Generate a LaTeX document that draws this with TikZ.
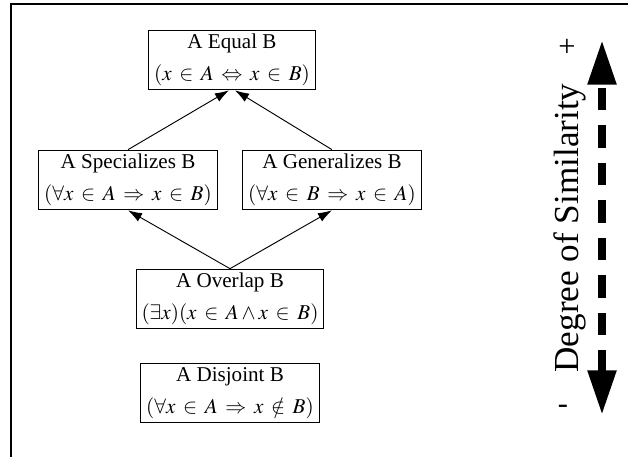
\documentclass[tikz,border=0pt]{standalone}
\usepackage{mathptmx}
\usepackage[no-math]{fontspec}
\setmainfont{Liberation Serif}
\usepackage{amsmath}
\usetikzlibrary{arrows.meta}

\begin{document}
\thickmuskip=6.5mu\relax
\begin{tikzpicture}[
  relbox/.style={draw, line width=0.8pt, align=center, inner xsep=4.5pt, inner ysep=3.5pt,
    font=\fontsize{18}{27}\selectfont},
  relarrow/.style={line width=0.8pt, -{Latex[length=12pt,width=8pt]}}]
\useasboundingbox (0,0) rectangle (18.84,13.71);
\draw[line width=1.2pt] (0.33,0) -- (0.33,13.59) -- (18.84,13.59); % frame
\node[relbox] (eq) at (6.96,11.91) {A Equal B\\$(x\in A\Leftrightarrow x\in B)$};
\node[relbox] (spec) at (3.84,8.31) {A Specializes B\\$(\forall x\in A\Rightarrow x\in B)$};
\node[relbox] (gen) at (9.96,8.31) {A Generalizes B\\$(\forall x\in B\Rightarrow x\in A)$};
\node[relbox] (ovl) at (6.90,4.74) {A Overlap B\\$(\exists x)(x\in A\wedge x\in B)$};
\node[relbox] (disj) at (6.90,1.92) {A Disjoint B\\$(\forall x\in A\Rightarrow x\notin B)$};
\draw[relarrow] (spec.north) -- ([xshift=-0.09cm]eq.south);
\draw[relarrow] (gen.north) -- ([xshift=0.09cm]eq.south);
\draw[relarrow] (ovl.north) -- (spec.south);
\draw[relarrow] (ovl.north) -- (gen.south);
% degree of similarity scale
\coordinate (top) at (18.06,12.51);
\coordinate (bot) at (18.06,1.26);
\draw[line width=7pt, dash pattern=on 19pt off 13pt,
  {Triangle[length=38pt,width=23pt]}-{Triangle[length=38pt,width=23pt]}] (bot) -- (top);
\node[rotate=90, font=\fontsize{30}{36}\selectfont] (deg) at (17.10,6.87) {Degree of Similarity};
\node[font=\fontsize{26}{30}\selectfont] (plus) at (17.01,12.27) {+};
\node[font=\fontsize{26}{30}\selectfont] (minus) at (16.89,1.44) {-};
\end{tikzpicture}
\end{document}
